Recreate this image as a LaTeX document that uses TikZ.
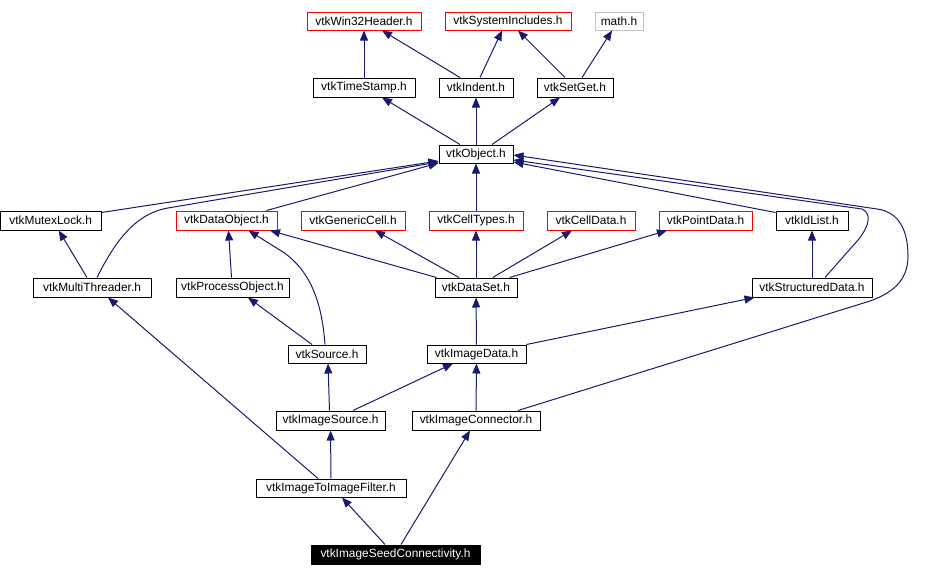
\documentclass[tikz,border=0pt]{standalone}
\usepackage{fontspec}
\setmainfont{Liberation Sans}
\usetikzlibrary{arrows.meta}
\definecolor{edgeblue}{RGB}{25,25,112}
\definecolor{boxgray}{RGB}{191,191,191}
\tikzset{
  hbox/.style={draw=black, line width=1pt, inner sep=0pt, fill=white, text=black,
    font=\fontsize{11.9}{12}\selectfont},
  redbox/.style={hbox, draw=red},
  greybox/.style={hbox, draw=boxgray},
  rootbox/.style={hbox, fill=black, text=white},
  dep/.style={draw=edgeblue, line width=1pt, -{Triangle[length=10pt,width=8pt]}},
}
\newcommand\hdr[7]{\node[#6, minimum width={(#4-#2)*1pt}, minimum height={(#5-#3)*1pt}] (#1) at ({(#2+#4)/2},{(#3+#5)/2}) {#7};}
\begin{document}
\begin{tikzpicture}[x=1pt,y=-1pt]
\useasboundingbox (0,0) rectangle (952,576);
% nodes
\hdr{w32}{307}{12}{421}{30}{redbox}{vtkWin32Header.h}
\hdr{sys}{445}{12}{571}{30}{redbox}{vtkSystemIncludes.h}
\hdr{math}{595}{12}{643}{30}{greybox}{math.h}
\hdr{ts}{313}{78}{415}{97}{hbox}{vtkTimeStamp.h}
\hdr{ind}{439}{78}{513}{97}{hbox}{vtkIndent.h}
\hdr{sg}{537}{78}{613}{97}{hbox}{vtkSetGet.h}
\hdr{obj}{439}{145}{513}{163}{hbox}{vtkObject.h}
\hdr{mutex}{0.5}{211}{101}{230}{hbox}{vtkMutexLock.h}
\hdr{dobj}{176}{211}{277}{230}{redbox}{vtkDataObject.h}
\hdr{gc}{301}{211}{405}{230}{redbox}{vtkGenericCell.h}
\hdr{ct}{429}{211}{523}{230}{redbox}{vtkCellTypes.h}
\hdr{cd}{547}{211}{635}{230}{redbox}{vtkCellData.h}
\hdr{pd}{659}{211}{752}{230}{redbox}{vtkPointData.h}
\hdr{idl}{776}{211}{848}{230}{hbox}{vtkIdList.h}
\hdr{mt}{33}{278}{151}{297}{hbox}{vtkMultiThreader.h}
\hdr{po}{176}{278}{289}{297}{hbox}{vtkProcessObject.h}
\hdr{ds}{435}{278}{517}{297}{hbox}{vtkDataSet.h}
\hdr{sd}{752}{278}{872}{297}{hbox}{vtkStructuredData.h}
\hdr{src}{288}{345}{366}{363}{hbox}{vtkSource.h}
\hdr{id}{427}{345}{526}{363}{hbox}{vtkImageData.h}
\hdr{isrc}{276}{411}{385}{430}{hbox}{vtkImageSource.h}
\hdr{ic}{412}{411}{540}{430}{hbox}{vtkImageConnector.h}
\hdr{itif}{256}{479}{406}{497}{hbox}{vtkImageToImageFilter.h}
\hdr{isc}{311}{545}{480}{564}{rootbox}{vtkImageSeedConnectivity.h}
% edges
\draw[dep] (ts) -- (w32);
\draw[dep] ([xshift=-16pt]ind.north) -- ([xshift=18pt]w32.south);
\draw[dep] ([xshift=4pt]ind.north) -- ([xshift=-6pt]sys.south);
\draw[dep] ([xshift=-10pt]sg.north) -- ([xshift=10pt]sys.south);
\draw[dep] ([xshift=7pt]sg.north) -- ([xshift=-7pt]math.south);
\draw[dep] ([xshift=-16pt]obj.north) -- ([xshift=18pt]ts.south);
\draw[dep] (obj) -- (ind);
\draw[dep] ([xshift=16pt]obj.north) -- ([xshift=-15pt]sg.south);
\draw[dep] ([yshift=-2pt]mutex.north east) -- ([yshift=-7pt]obj.west);
\draw[dep] ([xshift=5pt]mt.north) .. controls (112,248) and (132,214) .. (168,208) -- ([yshift=-8pt]obj.west);
\draw[dep] ([xshift=40pt]dobj.north) -- ([yshift=-9pt]obj.west);
\draw[dep] (ct) -- (obj);
\draw[dep] ([yshift=-2pt]idl.north west) -- ([yshift=-8pt]obj.east);
\draw[dep] ([xshift=13pt]sd.north) -- (858,240) .. controls (868,228) and (873,214) .. (862,209) -- ([yshift=-6pt]obj.east);
\draw[dep] ([xshift=42pt]ic.north) -- (870,301) .. controls (898,291) and (908,276) .. (908,256) .. controls (908,232) and (900,212) .. (877,209) -- ([yshift=-1pt]obj.east);
\draw[dep] ([xshift=2pt]ds.north west) -- ([xshift=43.5pt]dobj.south);
\draw[dep] ([xshift=-17pt]ds.north) -- ([xshift=22pt]gc.south);
\draw[dep] (ds) -- (ct);
\draw[dep] ([xshift=16.7pt]ds.north) -- ([xshift=-19pt]cd.south);
\draw[dep] ([xshift=33.6pt]ds.north) -- ([xshift=-38.5pt]pd.south);
\draw[dep] (sd) -- (idl);
\draw[dep] ([xshift=-5pt]mt.north) -- ([xshift=8pt]mutex.south);
\draw[dep] ([xshift=-1pt]po.north) -- ([xshift=2pt]dobj.south);
\draw[dep] ([xshift=-2pt]src.north) .. controls (322,305) and (312,272) .. (283,252) -- ([xshift=22pt]dobj.south);
\draw[dep] ([xshift=-15pt]src.north) -- ([xshift=15.5pt]po.south);
\draw[dep] (id) -- (ds);
\draw[dep] (id.north east) -- ([xshift=3pt]sd.south west);
\draw[dep] ([xshift=-1pt]isrc.north) -- ([xshift=1pt]src.south);
\draw[dep] ([xshift=22.5pt]isrc.north) -- ([xshift=-23.5pt]id.south);
\draw[dep] (ic) -- (id);
\draw[dep] (itif) -- (isrc);
\draw[dep] ([xshift=-13pt]itif.north) -- ([xshift=16pt]mt.south);
\draw[dep] ([xshift=-10.5pt]isc.north) -- ([xshift=11pt]itif.south);
\draw[dep] ([xshift=5.5pt]isc.north) -- ([xshift=-6pt]ic.south);
\end{tikzpicture}
\end{document}
